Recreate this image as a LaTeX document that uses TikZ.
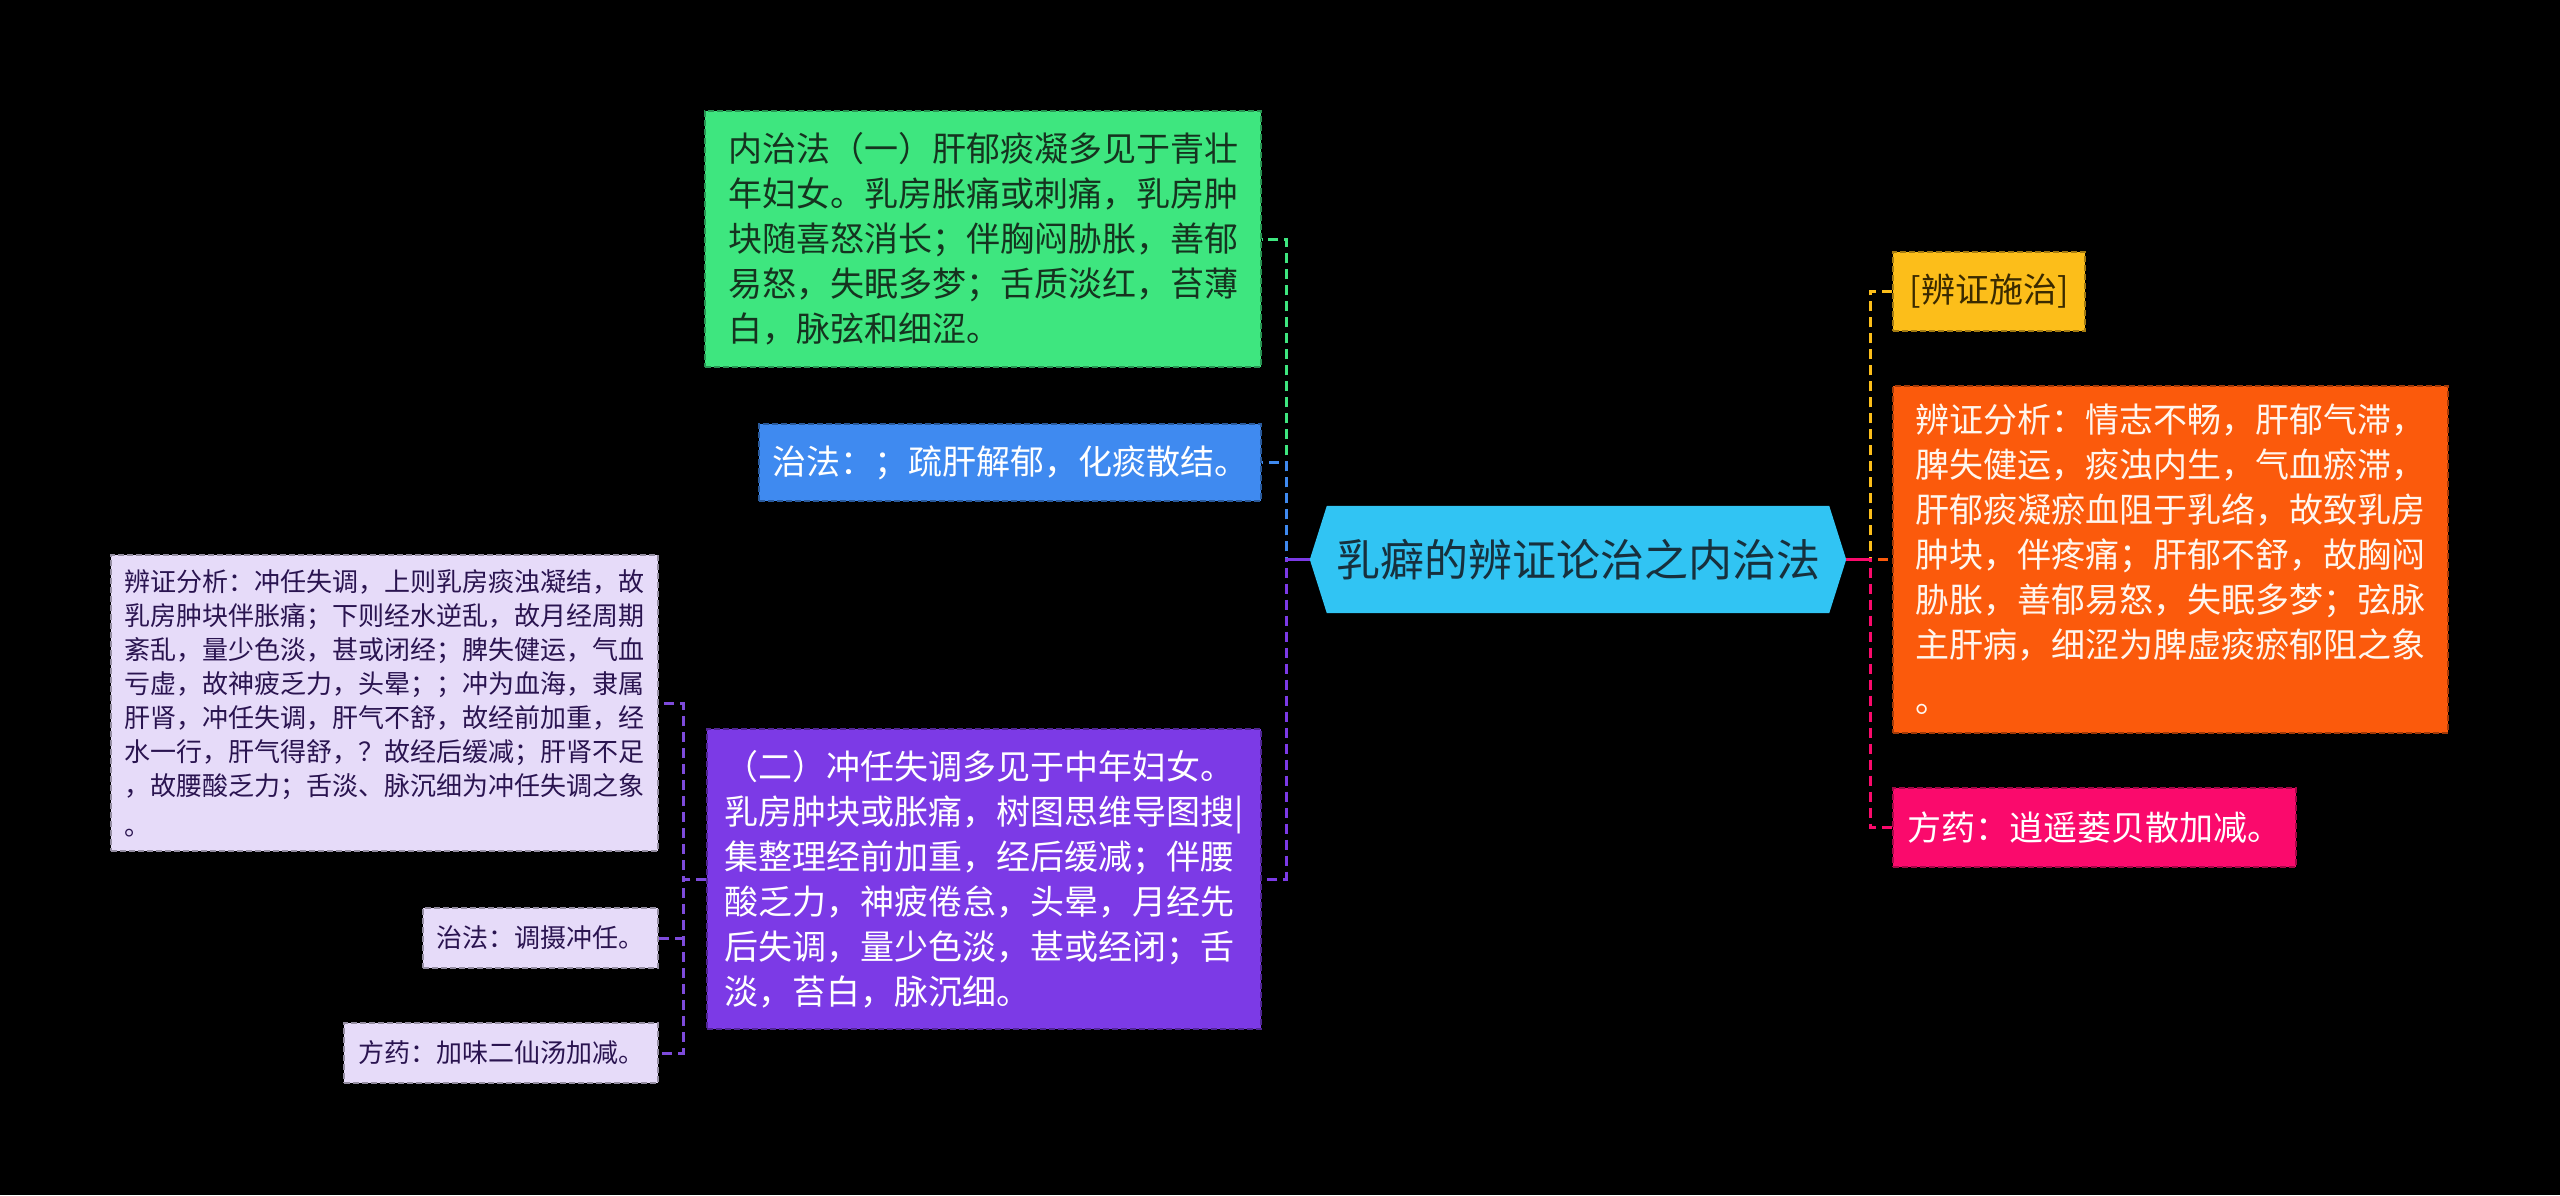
\documentclass[tikz,border=0pt]{standalone}
\usepackage{fontspec}
\setmainfont{Noto Sans CJK SC}
\usetikzlibrary{backgrounds}
\definecolor{cgreen}{HTML}{3EE67F}
\definecolor{cblue}{HTML}{3F8AF0}
\definecolor{ccyan}{HTML}{31C4F3}
\definecolor{cpurple}{HTML}{7C3AE6}
\definecolor{clav}{HTML}{E6DBF9}
\definecolor{cyellow}{HTML}{FCBE1A}
\definecolor{corange}{HTML}{FB5A0C}
\definecolor{cpink}{HTML}{FA0A6C}
\definecolor{tgreen}{HTML}{15331F}
\definecolor{tcenter}{HTML}{17303D}
\definecolor{tlav}{HTML}{2A1450}
\definecolor{tyellow}{HTML}{3A2A00}
\definecolor{tlight}{HTML}{FFF6EE}
\definecolor{clavline}{HTML}{7E4BDB}
\tikzset{
  box/.style={draw, dash pattern=on 6pt off 3pt, line width=2pt, inner sep=0pt,
    align=left, font=\fontsize{34}{45}\selectfont},
  smallbox/.style={box, font=\fontsize{26}{34}\selectfont},
  conn/.style={line width=3pt, dash pattern=on 10pt off 6pt},
  stub/.style={line width=3pt},
}
\begin{document}
\begin{tikzpicture}[x=1pt,y=-1pt]
\useasboundingbox (0,0) rectangle (2560,1195);
\begin{scope}[on background layer]
  \fill[black] (0,0) rectangle (2560,1195);
\end{scope}

% central node
\node[inner sep=0pt, minimum width=536pt, minimum height=107pt, text=tcenter,
      font=\fontsize{44}{50}\selectfont] (c) at (1578,559.5) {乳癖的辨证论治之内治法};
\begin{scope}[on background layer]
  \fill[ccyan] (c.west) -- ([xshift=17pt]c.north west) -- ([xshift=-17pt]c.north east)
    -- (c.east) -- ([xshift=-17pt]c.south east) -- ([xshift=17pt]c.south west) -- cycle;
\end{scope}

% left branches
\node[box, fill=cgreen, draw=cgreen!65!black, text=tgreen,
      minimum width=556pt, minimum height=256pt] (g) at (983,239)
  {内治法（一）肝郁痰凝多见于青壮\\年妇女。乳房胀痛或刺痛，乳房肿\\块随喜怒消长；伴胸闷胁胀，善郁\\易怒，失眠多梦；舌质淡红，苔薄\\白，脉弦和细涩。};
\node[box, fill=cblue, draw=cblue!65!black, text=white,
      minimum width=502pt, minimum height=77pt] (b) at (1010,462.5)
  {治法：；疏肝解郁，化痰散结。};
\node[box, fill=cpurple, draw=cpurple!65!black, text=white,
      minimum width=554pt, minimum height=300pt] (p) at (984,879)
  {（二）冲任失调多见于中年妇女。\\乳房肿块或胀痛，树图思维导图搜|\\集整理经前加重，经后缓减；伴腰\\酸乏力，神疲倦怠，头晕，月经先\\后失调，量少色淡，甚或经闭；舌\\淡，苔白，脉沉细。};

% lavender boxes
\node[smallbox, fill=clav, draw=clav!65!black, text=tlav,
      minimum width=547pt, minimum height=296pt] (la) at (384.5,703)
  {辨证分析：冲任失调，上则乳房痰浊凝结，故\\乳房肿块伴胀痛；下则经水逆乱，故月经周期\\紊乱，量少色淡，甚或闭经；脾失健运，气血\\亏虚，故神疲乏力，头晕；；冲为血海，隶属\\肝肾，冲任失调，肝气不舒，故经前加重，经\\水一行，肝气得舒，？故经后缓减；肝肾不足\\，故腰酸乏力；舌淡、脉沉细为冲任失调之象\\[6pt]。};
\node[smallbox, fill=clav, draw=clav!65!black, text=tlav,
      minimum width=235pt, minimum height=60pt] (lz) at (540.5,938)
  {治法：调摄冲任。};
\node[smallbox, fill=clav, draw=clav!65!black, text=tlav,
      minimum width=314pt, minimum height=60pt] (lf) at (501,1053)
  {方药：加味二仙汤加减。};

% right branches
\node[box, fill=cyellow, draw=cyellow!65!black, text=tyellow,
      minimum width=192pt, minimum height=79pt] (y) at (1989,291.5)
  {[辨证施治]};
\node[box, fill=corange, draw=corange!65!black, text=tlight,
      minimum width=555pt, minimum height=347pt] (o) at (2170.5,559.5)
  {辨证分析：情志不畅，肝郁气滞，\\脾失健运，痰浊内生，气血瘀滞，\\肝郁痰凝瘀血阻于乳络，故致乳房\\肿块，伴疼痛；肝郁不舒，故胸闷\\胁胀，善郁易怒，失眠多梦；弦脉\\主肝病，细涩为脾虚痰瘀郁阻之象\\[10pt]。};
\node[box, fill=cpink, draw=cpink!65!black, text=white,
      minimum width=403pt, minimum height=79pt] (k) at (2094.5,827.5)
  {方药：逍遥蒌贝散加减。};

% trunk coordinates
\coordinate (tl) at (1286,559.5);
\coordinate (tr) at (1870,559.5);
\coordinate (tp) at (683,879);

% left connectors
\draw[conn, cgreen] (c.west) -- (tl) |- (g.east);
\draw[conn, cblue] (c.west) -- (tl) |- (b.east);
\draw[conn, cpurple] (c.west) -- (tl) |- (p.east);
\draw[stub, cpurple] (c.west) -- (tl);

% right connectors
\draw[conn, cyellow] (c.east) -- (tr) |- (y.west);
\draw[conn, corange] (c.east) -- (o.west);
\draw[conn, cpink] (c.east) -- (tr) |- (k.west);
\draw[stub, cpink] (c.east) -- (tr);

% purple sub-branches
\draw[conn, clavline] (p.west) -- (tp) |- (la.east);
\draw[conn, clavline] (p.west) -- (tp) |- (lz.east);
\draw[conn, clavline] (p.west) -- (tp) |- (lf.east);
\end{tikzpicture}
\end{document}
